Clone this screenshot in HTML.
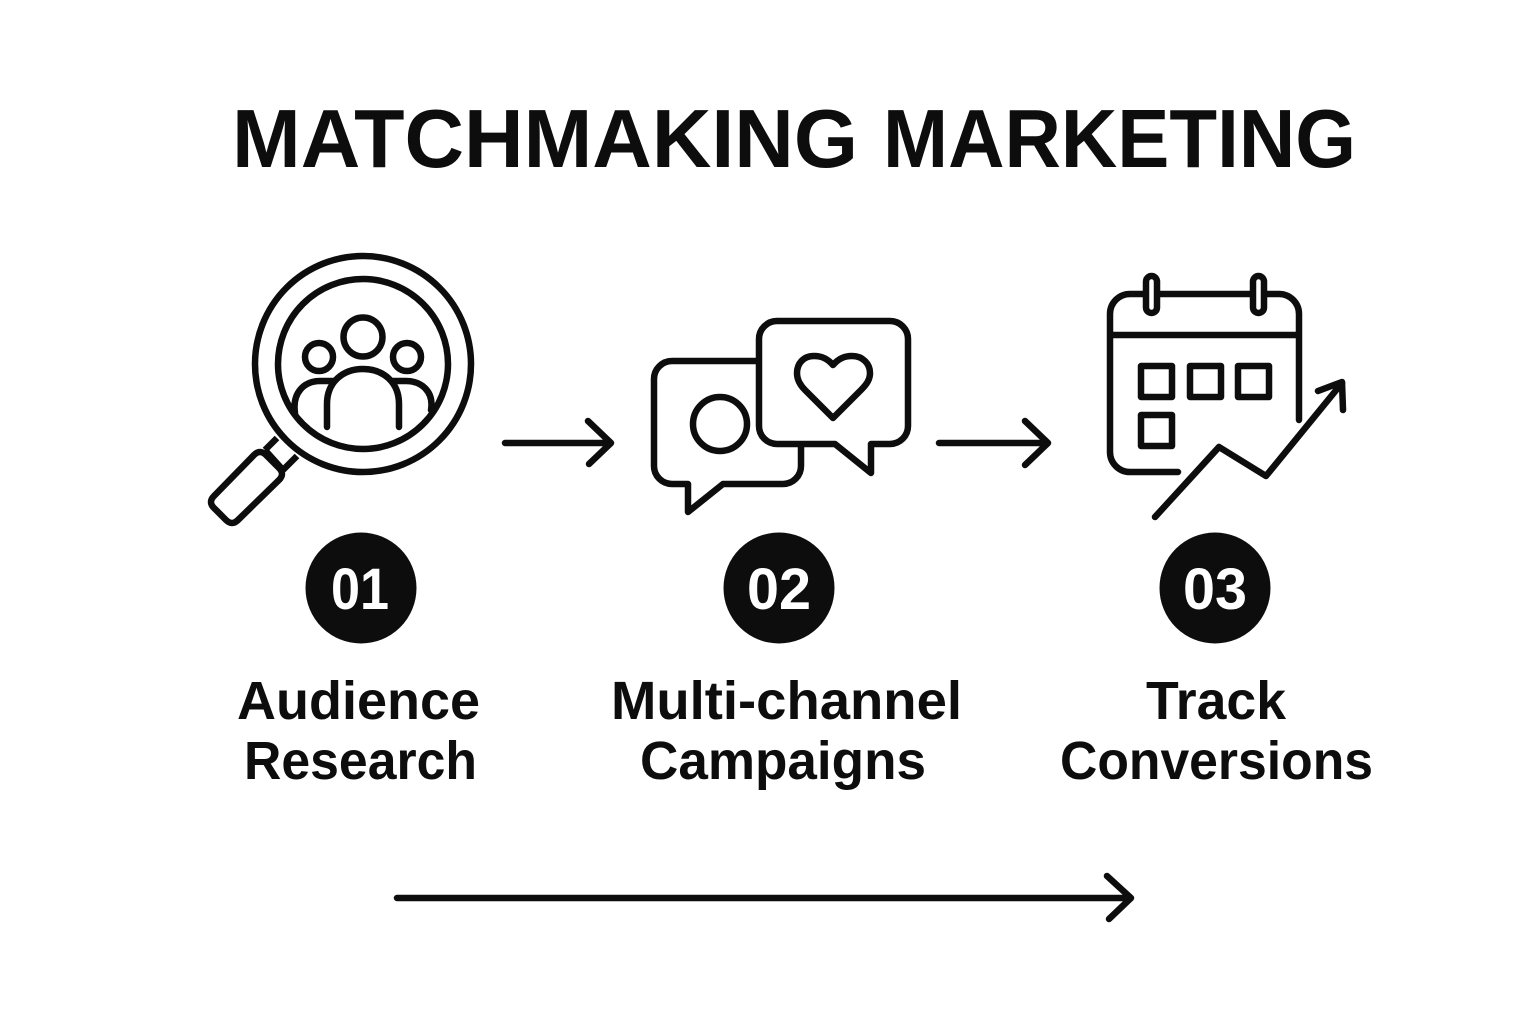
<!DOCTYPE html>
<html><head><meta charset="utf-8"><style>html,body{margin:0;padding:0;background:#fff}svg{display:block}text{font-family:"Liberation Sans",sans-serif;font-weight:700;fill:#0d0d0d}</style></head>
<body>
<svg width="1536" height="1024" viewBox="0 0 1536 1024" xmlns="http://www.w3.org/2000/svg">
<rect width="1536" height="1024" fill="#fff"/>
<g font-size="83">
<text x="232" y="167" textLength="626" lengthAdjust="spacingAndGlyphs">MATCHMAKING</text>
<text x="883" y="167" textLength="473" lengthAdjust="spacingAndGlyphs">MARKETING</text>
</g>
<g fill="none" stroke="#0d0d0d" stroke-width="6.5" stroke-linecap="round" stroke-linejoin="round">
<circle cx="363" cy="364" r="108"/>
<circle cx="363" cy="364" r="85"/>
<circle cx="363" cy="337" r="19.5"/>
<circle cx="319" cy="357" r="14"/>
<circle cx="407" cy="357" r="14"/>
<path d="M327 427V404C327 382 343 369 363 369C383 369 399 382 399 404V427"/>
<path d="M295 413C292 393 304 381 320 381H334"/>
<path d="M431 410C434 392 422 381 406 381H392"/>
<path d="M277 438L265 450M297 456L283 470" stroke-linecap="butt"/>
<path d="M265 450L283 470" stroke-linecap="butt"/>
<path d="M254 455Q260 449 266 455L279 468Q285 474 279 480L238 520Q232 526 226 520L214 508Q208 502 214 496Z"/>
<path d="M757 361H672A18 18 0 0 0 654 379V466A18 18 0 0 0 672 484H688V512L723 484H783A18 18 0 0 0 801 466V445"/>
<circle cx="720" cy="424" r="27"/>
<path d="M777 321H890A18 18 0 0 1 908 339V426A18 18 0 0 1 890 444H871V473L835 444H777A18 18 0 0 1 759 426V339A18 18 0 0 1 777 321Z"/>
<path d="M833 365C827 358 821 356 814 356C803 356 797 364 797 373C797 380 800 385 805 390L833 418L861 390C866 385 870 380 870 373C870 364 863 356 852 356C845 356 839 358 833 365Z"/>
<path d="M1178 472H1130A20 20 0 0 1 1110 452V314A20 20 0 0 1 1130 294H1279A20 20 0 0 1 1299 314V420"/>
<path d="M1110 335H1299" stroke-linecap="butt"/>
<rect x="1146" y="276" width="11" height="37" rx="5.5" fill="#fff"/>
<rect x="1253" y="276" width="11" height="37" rx="5.5" fill="#fff"/>
<rect x="1141" y="366" width="31" height="31"/>
<rect x="1190" y="366" width="31" height="31"/>
<rect x="1238" y="366" width="31" height="31"/>
<rect x="1141" y="415" width="31" height="31"/>
<path d="M1155 517L1219 447L1266 476L1342 383"/>
<path d="M1318 391L1342 382L1343 410"/>
<path d="M505 443H611M588 421L611 443L589 464"/>
<path d="M939 443H1048M1025 421L1048 443L1025 465"/>
<path d="M397 898H1131M1107 876L1131 898L1109 919"/>
</g>
<circle cx="361" cy="588" r="55.5" fill="#0d0d0d"/>
<circle cx="779" cy="588" r="55.5" fill="#0d0d0d"/>
<circle cx="1215" cy="588" r="55.5" fill="#0d0d0d"/>
<g font-size="58">
<text x="331" y="609" textLength="58" lengthAdjust="spacingAndGlyphs" style="fill:#fff">01</text>
<text x="747" y="609" textLength="64" lengthAdjust="spacingAndGlyphs" style="fill:#fff">02</text>
<text x="1183" y="609" textLength="64" lengthAdjust="spacingAndGlyphs" style="fill:#fff">03</text>
</g>
<g font-size="54">
<text x="237" y="719" textLength="243" lengthAdjust="spacingAndGlyphs">Audience</text>
<text x="244" y="779" textLength="233" lengthAdjust="spacingAndGlyphs">Research</text>
<text x="611" y="719" textLength="351" lengthAdjust="spacingAndGlyphs">Multi-channel</text>
<text x="640" y="779" textLength="286" lengthAdjust="spacingAndGlyphs">Campaigns</text>
<text x="1146" y="719" textLength="140" lengthAdjust="spacingAndGlyphs">Track</text>
<text x="1060" y="779" textLength="313" lengthAdjust="spacingAndGlyphs">Conversions</text>
</g>
</svg>
</body></html>
